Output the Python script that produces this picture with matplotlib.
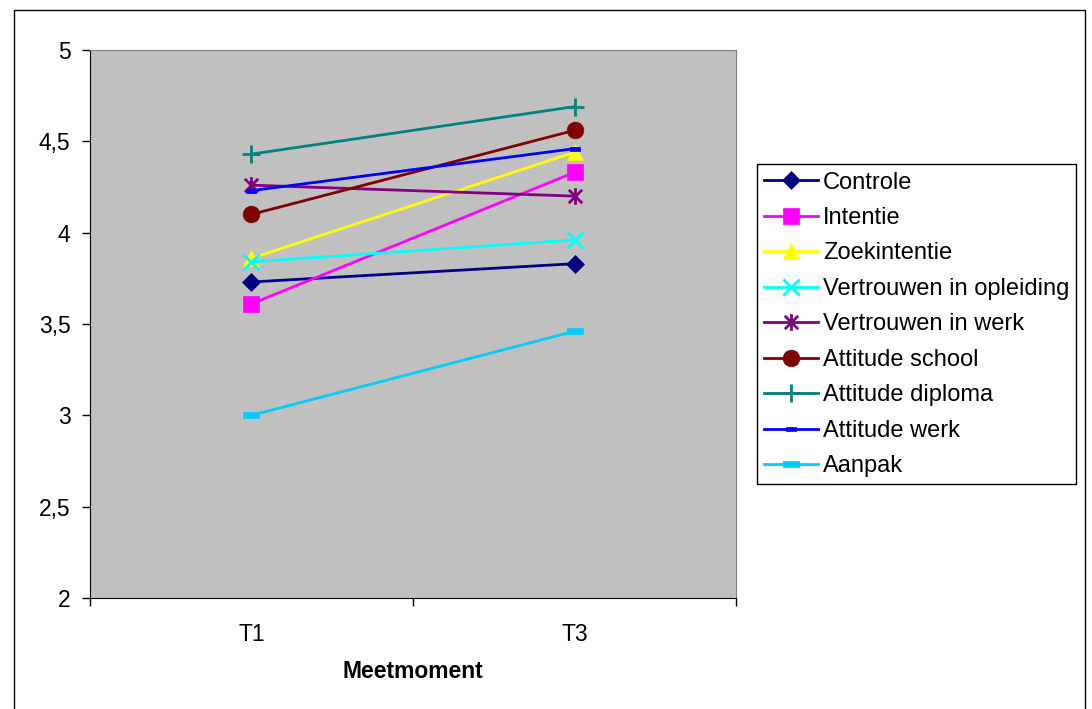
import matplotlib
matplotlib.use('AGG')
import matplotlib.pyplot as plt
from matplotlib.path import Path
from matplotlib.patches import Rectangle
from matplotlib.ticker import FuncFormatter

plt.rcParams['font.family'] = ['Liberation Sans', 'DejaVu Sans']

# mean scores per measurement moment
momenten = ['T1', 'T3']
controle = [3.73, 3.83]
intentie = [3.61, 4.33]
zoekintentie = [3.86, 4.44]
vertrouwen_opleiding = [3.84, 3.96]
vertrouwen_werk = [4.26, 4.20]
attitude_school = [4.10, 4.56]
attitude_diploma = [4.43, 4.69]
attitude_werk = [4.23, 4.46]
aanpak = [3.00, 3.46]

# Excel-style marker shapes
rect_marker = [(-1, -0.32), (1, -0.32), (1, 0.32), (-1, 0.32), (-1, -0.32)]
asterisk = Path([(0, -1), (0, 1), (-0.8, -0.8), (0.8, 0.8), (-0.8, 0.8), (0.8, -0.8)],
                [Path.MOVETO, Path.LINETO, Path.MOVETO, Path.LINETO, Path.MOVETO, Path.LINETO])

# name, values, colour, marker, size, edge width
series = [
    ('Controle', controle, '#000080', 'D', 9, 0.5),
    ('Intentie', intentie, '#FF00FF', 's', 12, 0.5),
    ('Zoekintentie', zoekintentie, '#FFFF00', '^', 12, 0.5),
    ('Vertrouwen in opleiding', vertrouwen_opleiding, '#00FFFF', 'x', 11, 2),
    ('Vertrouwen in werk', vertrouwen_werk, '#800080', asterisk, 12, 2),
    ('Attitude school', attitude_school, '#800000', 'o', 12, 0.5),
    ('Attitude diploma', attitude_diploma, '#008080', '+', 13, 2),
    ('Attitude werk', attitude_werk, '#0000FF', rect_marker, 7.5, 0.5),
    ('Aanpak', aanpak, '#00CCFF', rect_marker, 12, 0.5),
]

fig = plt.figure(figsize=(10.92, 7.09), dpi=100)
ax = fig.add_axes([0.0824, 0.1566, 0.5916, 0.7729])
ax.set_facecolor('#C0C0C0')

x = list(range(len(momenten)))
for naam, waarden, kleur, marker, ms, mew in series:
    ax.plot(x, waarden, color=kleur, lw=2, marker=marker, markersize=ms,
            markerfacecolor=kleur, markeredgecolor=kleur, markeredgewidth=mew,
            label=naam, clip_on=False)

ax.set_xlim(-0.5, 1.5)
ax.set_ylim(2, 5)
ax.set_yticks([2, 2.5, 3, 3.5, 4, 4.5, 5])
ax.yaxis.set_major_formatter(FuncFormatter(lambda v, p: ('%g' % v).replace('.', ',')))
ax.set_xticks([-0.5, 0.5, 1.5])
ax.set_xticklabels([])
ax.set_xticks(x, minor=True)
ax.set_xticklabels(momenten, minor=True)
ax.tick_params(axis='x', which='minor', length=0, pad=18, labelsize=16.5)
ax.tick_params(axis='x', which='major', length=6, width=1, direction='out')
ax.tick_params(axis='y', length=6, width=1, direction='out', labelsize=16.5, pad=8)

for s in ['left', 'bottom']:
    ax.spines[s].set_color('black')
for s in ['top', 'right']:
    ax.spines[s].set_color('#808080')

ax.set_xlabel('Meetmoment', fontsize=16.5, fontweight='bold', labelpad=10)

leg = fig.legend(loc='upper left', bbox_to_anchor=(0.693, 0.768), fontsize=17,
                 frameon=True, fancybox=False, edgecolor='black', framealpha=1,
                 handlelength=2.3, handletextpad=0.2, labelspacing=0.57,
                 borderpad=0.3, borderaxespad=0)
leg.get_frame().set_linewidth(1)

# outer chart border
fig.patches.append(Rectangle((14 / 1092, -0.01), 1071 / 1092, 1 - 10 / 709 + 0.01,
                             transform=fig.transFigure, fill=False,
                             edgecolor='black', lw=1))

plt.savefig('out.png', dpi=100)
